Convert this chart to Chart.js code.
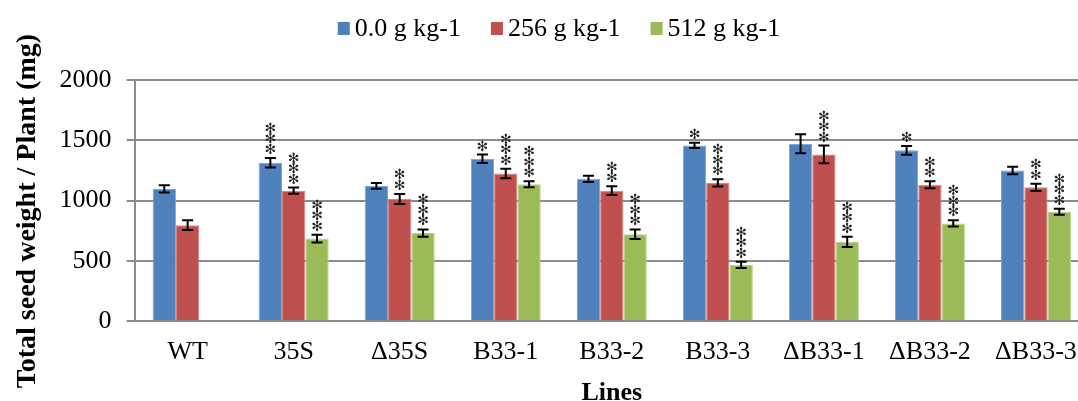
<!DOCTYPE html>
<html>
<head>
<meta charset="utf-8">
<script src="https://cdn.jsdelivr.net/npm/chart.js@4.4.1/dist/chart.umd.min.js"></script>
<style>
  html, body { margin: 0; padding: 0; background: #fff; overflow: hidden; }
  #wrap { width: 1118px; height: 401px; }
</style>
</head>
<body>
<div id="wrap"><canvas id="grafico"></canvas></div>
<script>
// lineas y series
const lineas = ['WT', '35S', '\u039435S', 'B33-1', 'B33-2', 'B33-3', '\u0394B33-1', '\u0394B33-2', '\u0394B33-3'];
const nombresSeries = ['0.0 g kg-1', '256 g kg-1', '512 g kg-1'];

// peso total de semilla (mg) por planta
const dosis0 = [1097, 1314, 1122, 1347, 1181, 1458, 1472, 1417, 1250];
const dosis256 = [797, 1083, 1014, 1225, 1083, 1147, 1383, 1131, 1111];
const dosis512 = [0, 686, 731, 1136, 722, 467, 658, 811, 908];

// barras de error (+/-)
const err0 = [30, 40, 24, 35, 26, 21, 79, 36, 32];
const err256 = [40, 25, 42, 40, 37, 30, 74, 29, 30];
const err512 = [0, 32, 30, 25, 39, 26, 42, 26, 24];

// numero de asteriscos de significancia
const sig0 = [0, 3, 0, 1, 0, 1, 0, 1, 0];
const sig256 = [0, 3, 2, 3, 2, 3, 3, 2, 2];
const sig512 = [0, 3, 3, 3, 3, 3, 3, 3, 3];

const ejeY = [0, 500, 1000, 1500, 2000];

const colores = ['#4F81BD', '#C0504D', '#9BBB59'];
const bordes = ['#7DA2D4', '#D58381', '#B9D28A'];
const fuente = 'Liberation Serif';

const errores = [err0, err256, err512];
const asteriscos = [sig0, sig256, sig512];

// errores y asteriscos dibujados sobre cada barra
const errorPlugin = {
    id: 'errorBars',
    afterDatasetsDraw(chart) {
        const ctx = chart.ctx;
        const y = chart.scales.y;
        ctx.save();
        chart.data.datasets.forEach((ds, d) => {
            const meta = chart.getDatasetMeta(d);
            meta.data.forEach((barra, i) => {
                const v = ds.data[i];
                const e = errores[d][i];
                let top = y.getPixelForValue(v);
                if (e > 0) {
                    const y1 = y.getPixelForValue(v + e);
                    const y2 = y.getPixelForValue(v - e);
                    ctx.strokeStyle = '#000';
                    ctx.lineWidth = 2;
                    ctx.beginPath();
                    ctx.moveTo(barra.x, y1); ctx.lineTo(barra.x, y2);
                    ctx.moveTo(barra.x - 5.5, y1); ctx.lineTo(barra.x + 5.5, y1);
                    ctx.moveTo(barra.x - 5.5, y2); ctx.lineTo(barra.x + 5.5, y2);
                    ctx.stroke();
                    top = y1;
                }
                const n = asteriscos[d][i];
                ctx.fillStyle = '#222';
                ctx.font = '14px "DejaVu Sans"';
                ctx.textAlign = 'center';
                ctx.textBaseline = 'alphabetic';
                const m = ctx.measureText('\u273B');
                const centro = (m.actualBoundingBoxAscent - m.actualBoundingBoxDescent) / 2;
                for (let k = 0; k < n; k++) {
                    const cy = top - 9 - k * 10.5;
                    ctx.fillText('\u273B', barra.x, cy + centro);
                }
            });
        });
        ctx.restore();
    }
};

// leyenda dibujada a mano (cuadro pegado al texto)
const leyenda = {
    id: 'leyenda',
    afterDraw(chart) {
        const ctx = chart.ctx;
        ctx.save();
        ctx.font = '26px "' + fuente + '"';
        ctx.textBaseline = 'middle';
        ctx.textAlign = 'left';
        const anchos = nombresSeries.map(t => 12 + 5 + ctx.measureText(t).width);
        const total = anchos.reduce((a, b) => a + b, 0) + 30 * (anchos.length - 1);
        let x = 559 - total / 2;
        nombresSeries.forEach((t, d) => {
            ctx.fillStyle = colores[d];
            ctx.fillRect(x, 22, 12, 13);
            ctx.fillStyle = '#000';
            ctx.fillText(t, x + 17, 29);
            x += anchos[d] + 30;
        });
        ctx.restore();
    }
};

const datos = [dosis0, dosis256, dosis512];

new Chart(document.getElementById('grafico'), {
    type: 'bar',
    data: {
        labels: lineas,
        datasets: datos.map((serie, d) => ({
            label: nombresSeries[d],
            data: serie,
            backgroundColor: colores[d],
            borderColor: bordes[d],
            borderWidth: 1,
            categoryPercentage: 0.66,
            barPercentage: 1.0
        }))
    },
    options: {
        responsive: true,
        maintainAspectRatio: false,
        animation: false,
        layout: { padding: { left: 11, right: 29, top: 80, bottom: 0 } },
        plugins: {
            legend: { display: false },
            tooltip: { enabled: false }
        },
        scales: {
            x: {
                grid: { display: false },
                border: { display: true, color: '#8C8C8C', width: 2 },
                ticks: { color: '#000', padding: 7, font: { family: fuente, size: 26 } },
                title: {
                    display: true,
                    text: 'Lines',
                    color: '#000',
                    padding: { top: 9, bottom: -2 },
                    font: { family: fuente, size: 26, weight: 'bold', lineHeight: 0.75 }
                }
            },
            y: {
                min: 0,
                max: 2000,
                afterBuildTicks(axis) { axis.ticks = ejeY.map(v => ({ value: v })); },
                grid: { color: '#8C8C8C', lineWidth: 2, tickLength: 8 },
                border: { display: true, color: '#8C8C8C', width: 2 },
                ticks: {
                    color: '#000',
                    padding: 15,
                    font: { family: fuente, size: 26 },
                    callback: v => String(v)
                },
                title: {
                    display: true,
                    text: 'Total seed weight / Plant (mg)\u00A0\u00A0\u00A0',
                    color: '#000',
                    padding: { top: 0, bottom: 0 },
                    font: { family: fuente, size: 28, weight: 'bold' }
                }
            }
        }
    },
    plugins: [errorPlugin, leyenda]
});
</script>
</body>
</html>
